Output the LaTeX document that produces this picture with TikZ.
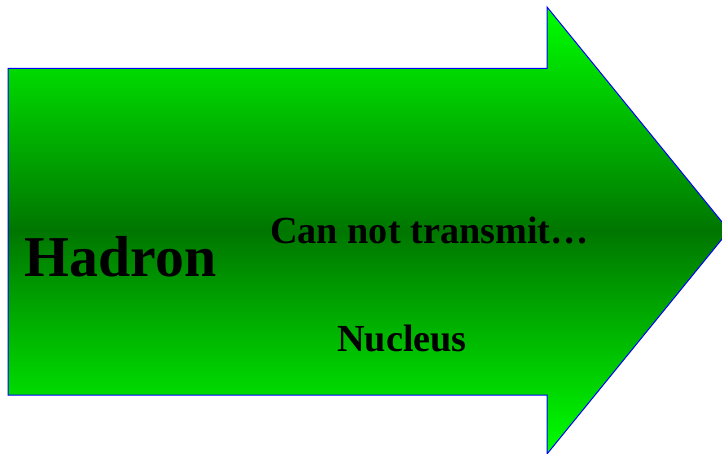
\documentclass[tikz,border=0pt]{standalone}
\usepackage{fontspec}
\setmainfont{Liberation Serif}
\definecolor{brightgreen}{RGB}{0,255,0}
\definecolor{darkgreen}{RGB}{0,118,0}
\definecolor{edgeblue}{RGB}{0,0,255}
\tikzset{
  arrowshape/.style={draw=edgeblue, line width=1bp, top color=brightgreen, bottom color=brightgreen, middle color=darkgreen},
  bigtext/.style={anchor=base, inner sep=0pt, font=\fontsize{58}{58}\selectfont\bfseries},
  midtext/.style={anchor=base, inner sep=0pt, font=\fontsize{38.4}{38.4}\selectfont\bfseries}
}
\begin{document}
\begin{tikzpicture}[x=1bp,y=-1bp]
\useasboundingbox (0,0) rectangle (722,454);
\clip (0,0) rectangle (722,454);
\path[arrowshape] (8,68.5) -- (547,68.5) -- (547,7) -- (729,230.5) -- (547,454) -- (547,395) -- (8,395) -- cycle;
\node[bigtext] (hadron) at (120.5,277) {Hadron};
\node[midtext] (transmit) at (429.5,244) {Can not transmit…};
\node[midtext] (nucleus) at (402,352) {Nucleus};
\end{tikzpicture}
\end{document}
